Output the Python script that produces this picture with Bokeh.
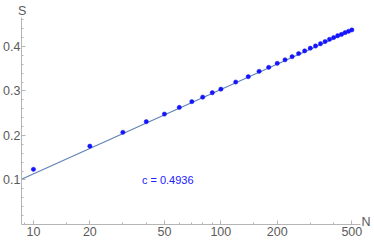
import numpy as np
from bokeh.plotting import figure
from bokeh.models import (Range1d, FixedTicker, Label, ColumnDataSource,
                          LogAxis, LinearAxis)
from bokeh.embed import file_html
from bokeh.resources import INLINE

# data
N = [10, 20, 30, 40, 50, 60, 70, 80, 90, 100,
     120, 140, 160, 180, 200, 220, 240, 260, 280, 300,
     320, 340, 360, 380, 400, 420, 440, 460, 480, 500]
S = [0.124, 0.176, 0.207, 0.231, 0.248, 0.263, 0.276, 0.286, 0.296, 0.304,
     0.320, 0.332, 0.344, 0.353, 0.362, 0.370, 0.377, 0.384, 0.390, 0.396,
     0.401, 0.406, 0.411, 0.416, 0.420, 0.424, 0.427, 0.431, 0.434, 0.437]

# fit: S = c/6 * ln N + b
fit_c = 0.4936
fit_b = -0.0755

x_ticks = [10, 20, 50, 100, 200, 500]
x_minor = [9, 15, 30, 40, 60, 70, 80, 90, 150, 300, 400]
y_ticks = [0.1, 0.2, 0.3, 0.4]
y_minor = [0.02, 0.04, 0.06, 0.08, 0.12, 0.14, 0.16, 0.18, 0.22, 0.24, 0.26,
           0.28, 0.32, 0.34, 0.36, 0.38, 0.42, 0.44, 0.46]

x_lo, x_hi = 8.635, 556
y_lo, y_hi = 0.0, 0.465

FONT = "Liberation Sans"
GRAY_TXT = "#5a5a5a"
GRAY_AX = "#b5b5b5"

p = figure(width=374, height=242, x_axis_type="log",
           x_range=Range1d(x_lo, x_hi), y_range=Range1d(y_lo, y_hi),
           output_backend="svg", toolbar_location=None,
           min_border_left=0, min_border_right=14, min_border_top=15,
           min_border_bottom=18)
p.outline_line_color = None
p.grid.visible = False
p.background_fill_color = "white"
p.border_fill_color = "white"

# x axis
xa = p.xaxis[0]
xa.ticker = FixedTicker(ticks=x_ticks, minor_ticks=x_minor)
xa.major_label_overrides = {t: str(t) for t in x_ticks}
xa.axis_line_color = GRAY_AX
xa.major_tick_line_color = GRAY_AX
xa.minor_tick_line_color = GRAY_AX
xa.major_tick_in = 4
xa.major_tick_out = 0
xa.minor_tick_in = 2
xa.minor_tick_out = 0
xa.major_label_standoff = 2
xa.major_label_text_font = FONT
xa.major_label_text_font_size = "12.5px"
xa.major_label_text_color = GRAY_TXT

# y axis
ya = p.yaxis[0]
ya.ticker = FixedTicker(ticks=y_ticks, minor_ticks=y_minor)
ya.major_label_overrides = {t: f"{t:.1f}" for t in y_ticks}
ya.major_label_standoff = 1
ya.axis_line_color = GRAY_AX
ya.major_tick_line_color = GRAY_AX
ya.minor_tick_line_color = GRAY_AX
ya.major_tick_in = 4
ya.major_tick_out = 0
ya.minor_tick_in = 2
ya.minor_tick_out = 0
ya.major_label_text_font = FONT
ya.major_label_text_font_size = "12.5px"
ya.major_label_text_color = GRAY_TXT

# axis titles: "S" above the top of the y axis, "N" at the right end of the x axis
s_pos = 8.71     # N-position of the "S" title (at the y axis)
n_pos = 0.0045   # S-position of the "N" title (at the x axis)

top_ax = LogAxis(ticker=FixedTicker(ticks=[s_pos], minor_ticks=[]),
                 major_label_overrides={s_pos: "S"},
                 axis_line_color=None, major_tick_line_color=None,
                 minor_tick_line_color=None, major_tick_out=0, major_tick_in=0,
                 minor_tick_out=0, minor_tick_in=0, major_label_standoff=0,
                 major_label_text_font=FONT, major_label_text_font_size="12.5px",
                 major_label_text_color=GRAY_TXT)
p.add_layout(top_ax, "above")

right_ax = LinearAxis(ticker=FixedTicker(ticks=[n_pos], minor_ticks=[]),
                      major_label_overrides={n_pos: "N"},
                      axis_line_color=None, major_tick_line_color=None,
                      minor_tick_line_color=None, major_tick_out=0, major_tick_in=0,
                      minor_tick_out=0, minor_tick_in=0, major_label_standoff=1,
                      major_label_text_font=FONT, major_label_text_font_size="12.5px",
                      major_label_text_color=GRAY_TXT)
p.add_layout(right_ax, "right")

# fit line
line_N = np.array([x_lo, max(N)])
line_S = fit_c / 6 * np.log(line_N) + fit_b
p.line(line_N, line_S, line_color="#5e81b5", line_width=1.1)

# data points
src = ColumnDataSource(dict(N=N, S=S))
p.scatter("N", "S", source=src, size=4.3, fill_color="#1414ff",
          line_color="#1414ff", line_width=0.5)

# annotation
p.add_layout(Label(x=37.9, y=0.0993, text=f"c = {fit_c}",
                   text_align="left", text_baseline="middle",
                   text_font=FONT, text_font_size="11px", text_color="#2020ff"))

open("out.html", "w").write(file_html(p, INLINE))
